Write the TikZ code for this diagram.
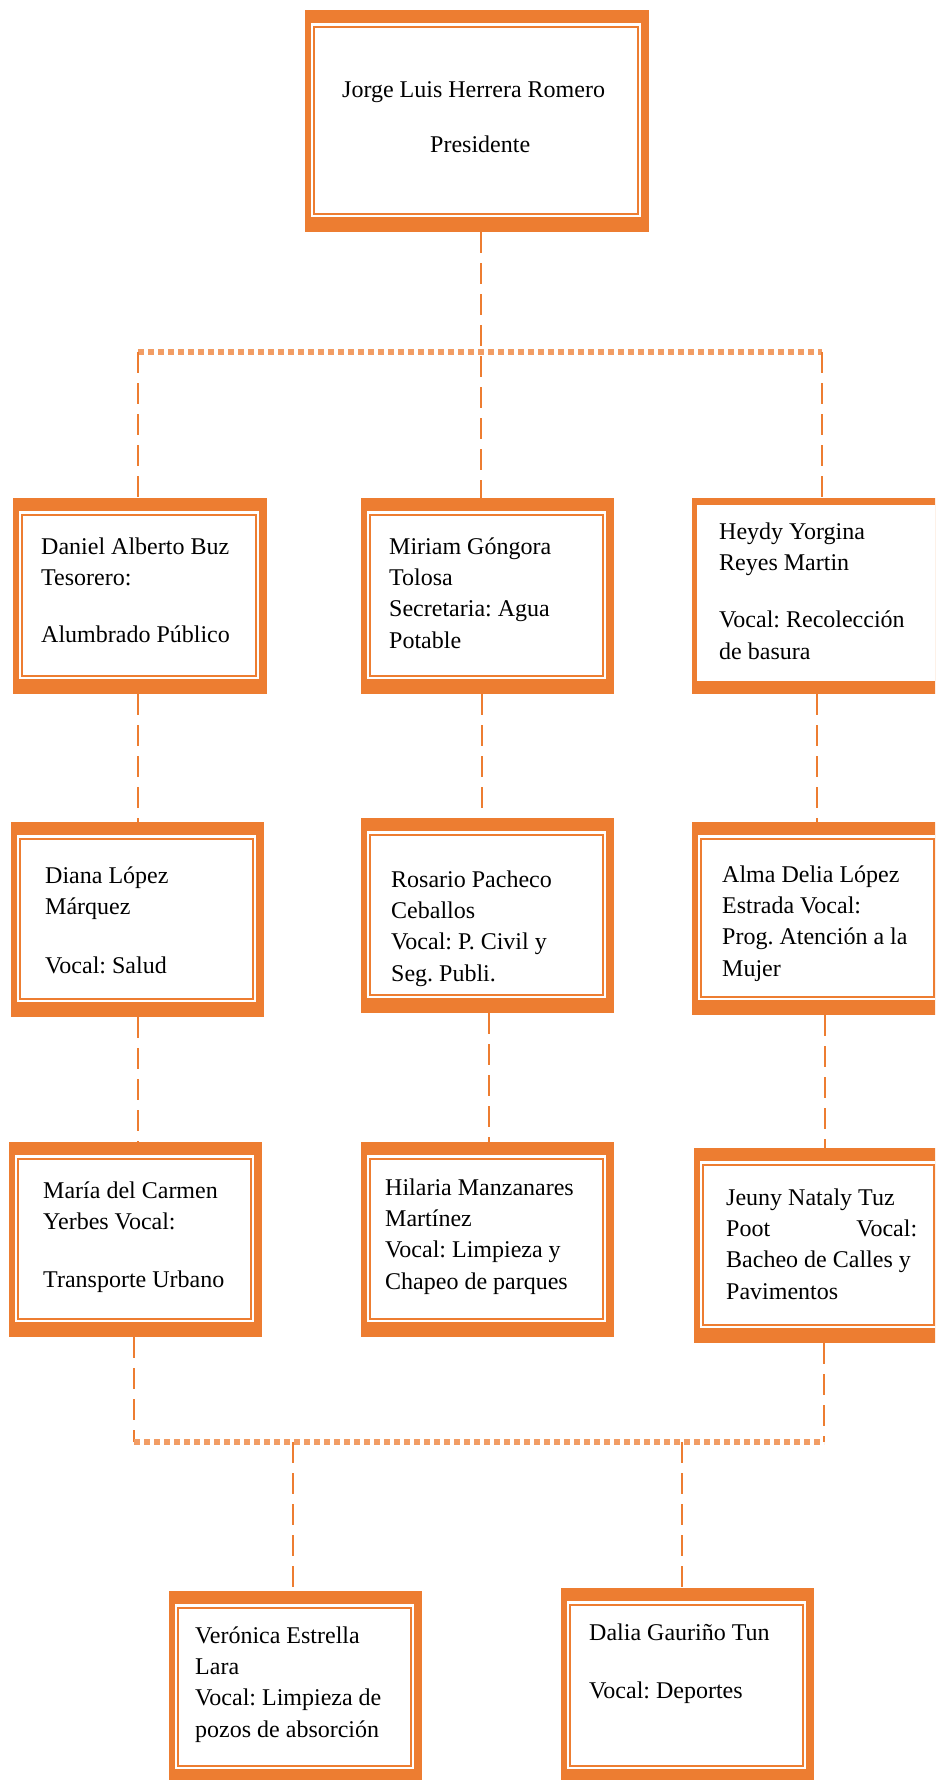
\documentclass[tikz,border=0pt]{standalone}
\usepackage{fontspec}
\setmainfont{Liberation Serif}
\usetikzlibrary{fit}
\definecolor{org}{HTML}{ED7D31}
\frenchspacing
\newcommand\obox[5]{%
  \fill[org] (#2,#3) rectangle (#4,#5);
  \fill[white] (#2+6,#3+13) rectangle (#4-8,#5-15);
  \draw[org,line width=2pt] (#2+9,#3+16.5) rectangle (#4-11,#5-18.5);
  \node[fit={(#2,#3) (#4,#5)},inner sep=0pt] (#1) {};}
\newcommand\oboxplain[5]{%
  \fill[org] (#2,#3) rectangle (#4,#5);
  \fill[white] (#2+5,#3+7) rectangle (#4-8,#5-13);
  \node[fit={(#2,#3) (#4,#5)},inner sep=0pt] (#1) {};}
\tikzset{
  txt/.style={anchor=north west,inner sep=0pt,align=left,font=\fontsize{24}{31.3}\selectfont\frenchspacing},
  dconn/.style={draw=org,line width=1.6pt,dash pattern=on 21pt off 10pt},
  dline/.style={draw=org!75,line width=6pt,dash pattern=on 6pt off 4pt},
}
\begin{document}
\begin{tikzpicture}[x=1pt,y=-1pt]
\clip (0,0) rectangle (935,1780);
\fill[white] (0,0) rectangle (935,1780);
% junction coordinates
\coordinate (h1l) at (138,352);
\coordinate (h1c) at (481,352);
\coordinate (h1r) at (822,352);
\coordinate (v1) at (138,760);
\coordinate (v2) at (482,760);
\coordinate (v3) at (817,760);
\coordinate (w1) at (138,1080);
\coordinate (w2) at (489,1080);
\coordinate (w3) at (825,1080);
\coordinate (h2l) at (134,1442);
\coordinate (h2r) at (824,1442);
\coordinate (b1) at (293,1442);
\coordinate (b2) at (682,1442);
% boxes
\obox{pres}{305}{10}{649}{232}
\obox{daniel}{13}{498}{267}{694}
\obox{miriam}{361}{498}{614}{694}
\oboxplain{heydy}{692}{498}{945}{694}
\obox{diana}{11}{822}{264}{1017}
\obox{rosario}{361}{818}{614}{1013}
\obox{alma}{692}{822}{945}{1015}
\obox{maria}{9}{1142}{262}{1337}
\obox{hilaria}{361}{1142}{614}{1337}
\obox{jeuny}{694}{1148}{945}{1343}
\obox{veronica}{169}{1591}{422}{1784}
\obox{dalia}{561}{1588}{814}{1784}
% connectors
\draw[dline] (h1l) -- (h1r);
\draw[dconn] (pres.south -| h1c) -- (miriam.north -| h1c);
\draw[dconn] (h1l) -- (daniel.north -| h1l);
\draw[dconn] (h1r) -- (heydy.north -| h1r);
\draw[dconn] (daniel.south -| v1) -- (diana.north -| v1);
\draw[dconn] (miriam.south -| v2) -- (rosario.north -| v2);
\draw[dconn] (heydy.south -| v3) -- (alma.north -| v3);
\draw[dconn] (diana.south -| w1) -- (maria.north -| w1);
\draw[dconn] (rosario.south -| w2) -- (hilaria.north -| w2);
\draw[dconn] (alma.south -| w3) -- (jeuny.north -| w3);
\draw[dconn] (maria.south -| h2l) -- (h2l);
\draw[dconn] (jeuny.south -| h2r) -- (h2r);
\draw[dline] (h2l) -- (h2r);
\draw[dconn] (b1) -- (veronica.north -| b1);
\draw[dconn] (b2) -- (dalia.north -| b2);
% texts
\node[txt] (t-pres) at (342,75.1) {\strut Jorge Luis Herrera Romero\\[23.7pt]\hspace*{88pt}Presidente};
\node[txt] (t-daniel) at (41,532.1) {\strut Daniel Alberto Buz\\Tesorero:\\[25.7pt]Alumbrado Público};
\node[txt] (t-miriam) at (389,532.1) {\strut Miriam Góngora\\Tolosa\\Secretaria: Agua\\Potable};
\node[txt] (t-heydy) at (719,517.1) {\strut Heydy Yorgina\\Reyes Martin\\[26pt]Vocal: Recolección\\de basura};
\node[txt] (t-diana) at (45,861.1) {\strut Diana López\\Márquez\\[27.7pt]Vocal: Salud};
\node[txt] (t-rosario) at (391,865.1) {\strut Rosario Pacheco\\Ceballos\\Vocal: P. Civil y\\Seg. Publi.};
\node[txt] (t-alma) at (722,860.1) {\strut Alma Delia López\\Estrada Vocal:\\Prog. Atención a la\\Mujer};
\node[txt] (t-maria) at (43,1176.1) {\strut María del Carmen\\Yerbes Vocal:\\[27pt]Transporte Urbano};
\node[txt] (t-hilaria) at (385,1173.1) {\strut Hilaria Manzanares\\Martínez\\Vocal: Limpieza y\\Chapeo de parques};
\node[txt] (t-jeuny) at (726,1183.1) {\strut Jeuny Nataly Tuz\\\makebox[191pt][l]{Poot\hfill Vocal:}\\Bacheo de Calles y\\Pavimentos};
\node[txt] (t-veronica) at (195,1621.1) {\strut Verónica Estrella\\Lara\\Vocal: Limpieza de\\pozos de absorción};
\node[txt] (t-dalia) at (589,1618.1) {\strut Dalia Gauriño Tun\\[26.7pt]Vocal: Deportes};
\end{tikzpicture}
\end{document}
